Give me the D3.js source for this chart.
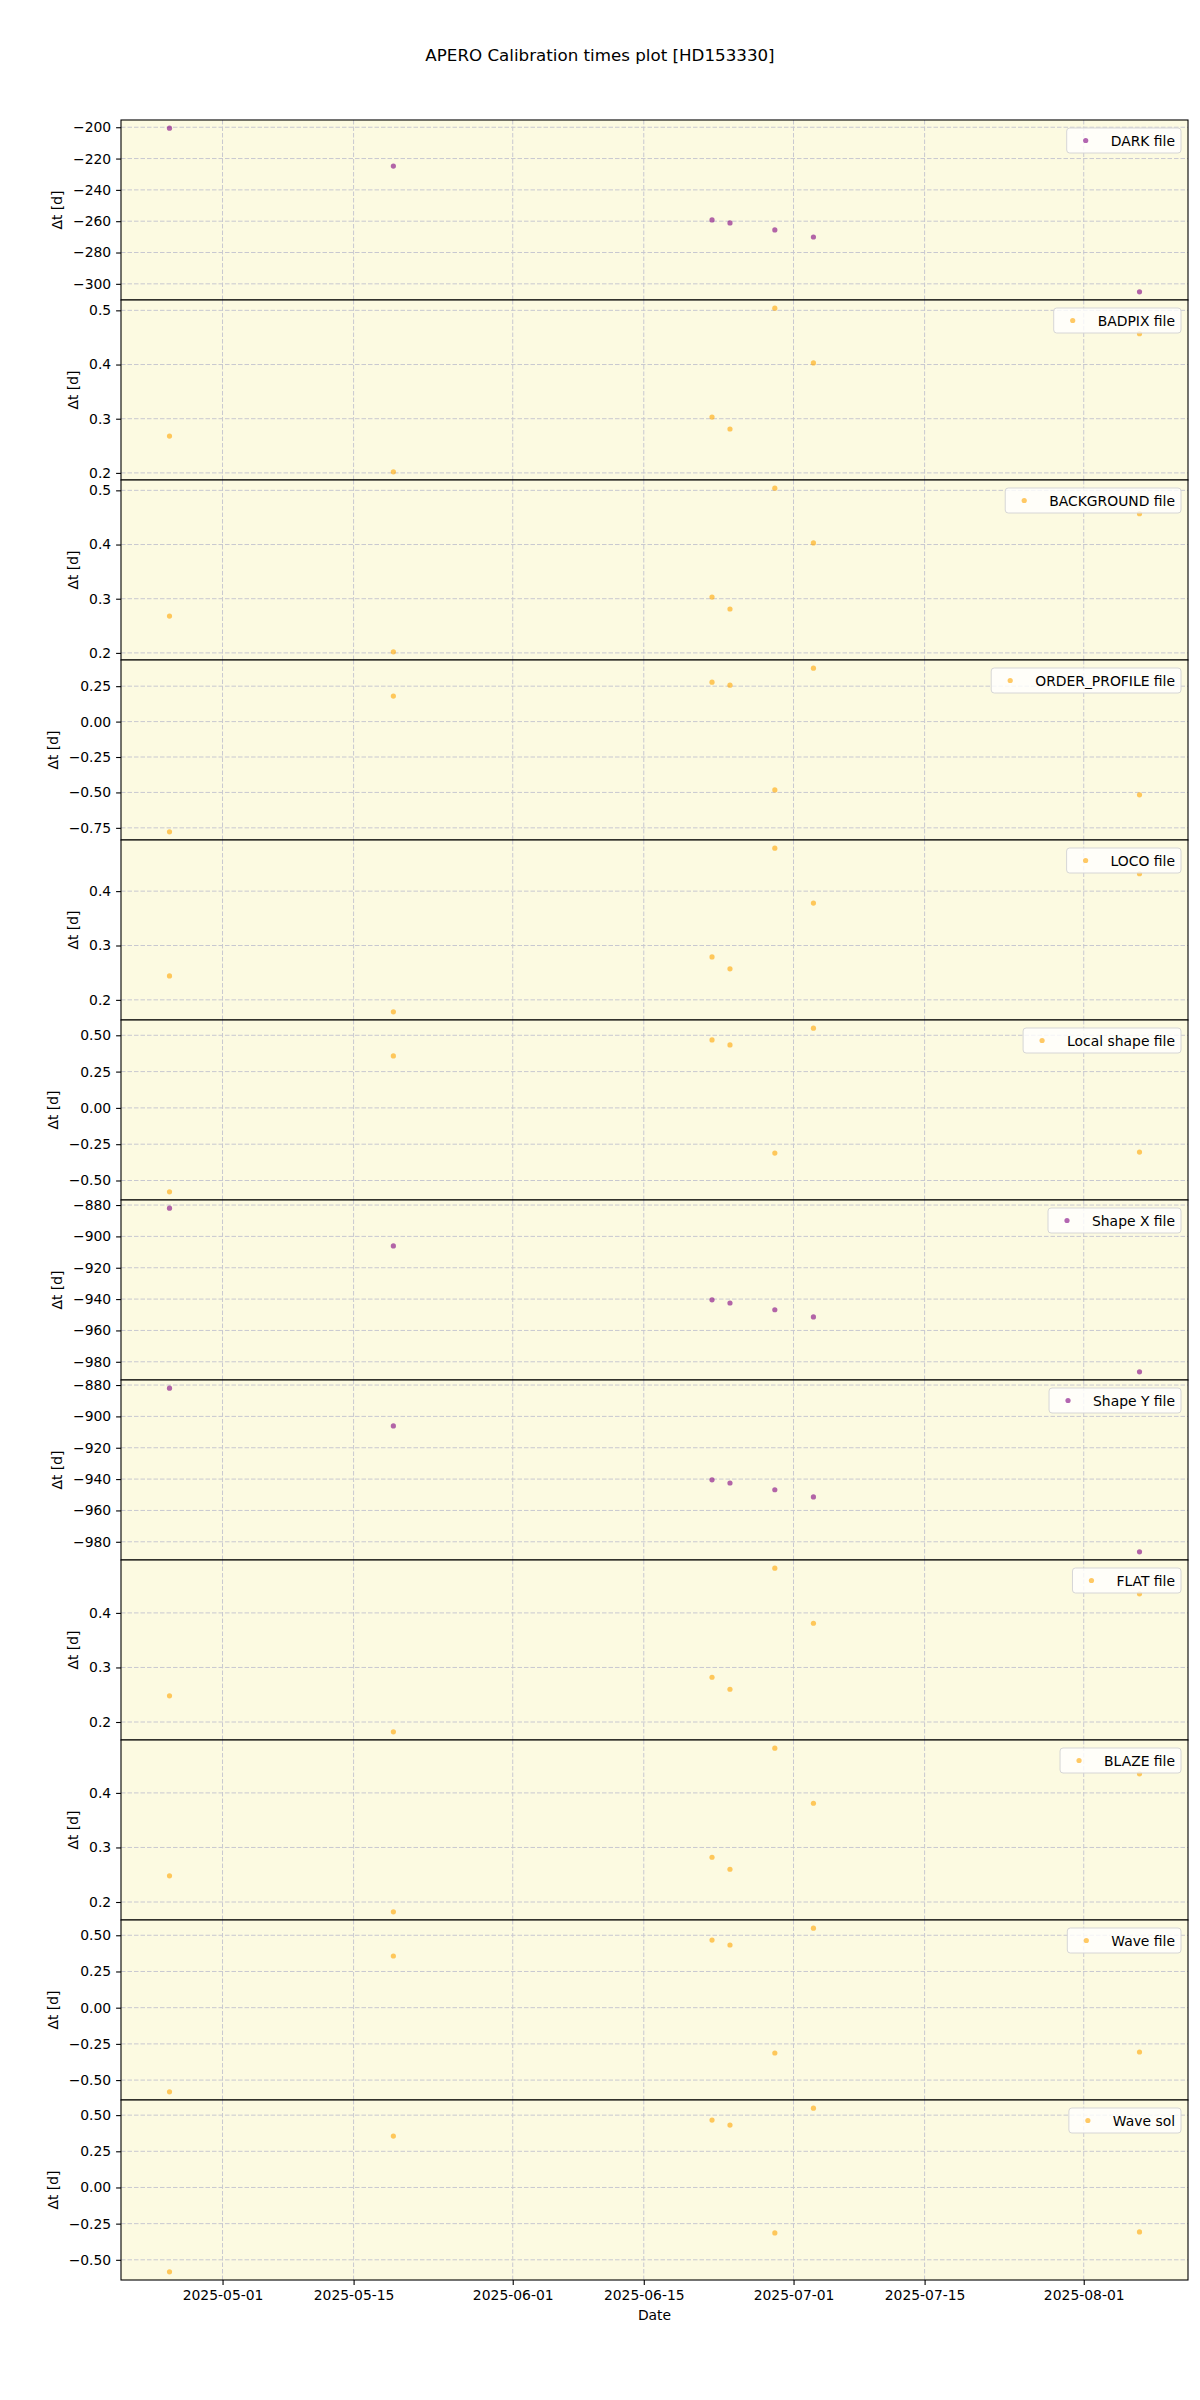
<!DOCTYPE html>
<html>
<head>
<meta charset="utf-8">
<script src="https://cdnjs.cloudflare.com/ajax/libs/d3/7.8.5/d3.min.js"></script>
<style>
  body { margin: 0; background: white; }
  svg { font-family: "DejaVu Sans", sans-serif; }
</style>
</head>
<body>
<div class="wrapper"></div>
<script>
const w = 1200
const h = 2400
const left = 121
const right = 1188
const top0 = 120
const panelH = 180
const fontSize = 13.9

// observation dates (shared by every panel)
const dates = ["2025-04-25T08:00", "2025-05-19T06:00", "2025-06-22T07:00", "2025-06-24T05:00",
  "2025-06-29T00:00", "2025-07-03T03:00", "2025-08-06T23:00"]

const darkDt = [-200.6, -224.8, -259.2, -261.1, -265.6, -270.1, -305.1]
const badpixDt = [0.268, 0.202, 0.303, 0.281, 0.504, 0.403, 0.457]
const backgroundDt = [0.268, 0.202, 0.303, 0.281, 0.504, 0.403, 0.457]
const orderProfileDt = [-0.778, 0.180, 0.278, 0.257, -0.482, 0.377, -0.517]
const locoDt = [0.244, 0.178, 0.279, 0.257, 0.479, 0.378, 0.432]
const localShapeDt = [-0.578, 0.358, 0.468, 0.434, -0.311, 0.549, -0.304]
const shapeXDt = [-882.0, -906.1, -940.5, -942.5, -946.8, -951.4, -986.4]
const shapeYDt = [-882.0, -906.1, -940.5, -942.5, -946.8, -951.4, -986.4]
const flatDt = [0.248, 0.182, 0.282, 0.260, 0.482, 0.381, 0.435]
const blazeDt = [0.248, 0.182, 0.282, 0.260, 0.482, 0.381, 0.435]
const waveFileDt = [-0.581, 0.357, 0.467, 0.433, -0.313, 0.549, -0.306]
const waveSolDt = [-0.583, 0.355, 0.466, 0.431, -0.314, 0.548, -0.307]

const labels = ["DARK file", "BADPIX file", "BACKGROUND file", "ORDER_PROFILE file", "LOCO file",
  "Local shape file", "Shape X file", "Shape Y file", "FLAT file", "BLAZE file", "Wave file", "Wave sol"]
const series = [darkDt, badpixDt, backgroundDt, orderProfileDt, locoDt, localShapeDt,
  shapeXDt, shapeYDt, flatDt, blazeDt, waveFileDt, waveSolDt]
const colors = ["purple", "orange", "orange", "orange", "orange", "orange",
  "purple", "purple", "orange", "orange", "orange", "orange"]

const darkTicks = [-300, -280, -260, -240, -220, -200]
const tenthTicks = [0.2, 0.3, 0.4, 0.5]
const quarterTicks = [-0.75, -0.5, -0.25, 0, 0.25, 0.5]
const shapeTicks = [-980, -960, -940, -920, -900, -880]
const yTicks = [darkTicks, tenthTicks, tenthTicks, quarterTicks, tenthTicks, quarterTicks,
  shapeTicks, shapeTicks, tenthTicks, tenthTicks, quarterTicks, quarterTicks]
const yDecimals = [0, 1, 1, 2, 1, 2, 0, 0, 1, 1, 2, 2]

const xTicks = ["2025-05-01", "2025-05-15", "2025-06-01", "2025-06-15", "2025-07-01", "2025-07-15", "2025-08-01"]

const parseT = (s) => new Date(s + (s.length > 10 ? ":00Z" : "T00:00:00Z"))
const times = dates.map(parseT)

const tExt = d3.extent(times)
const tPad = (tExt[1] - tExt[0]) * 0.05
const xScale = d3.scaleUtc()
  .domain([new Date(+tExt[0] - tPad), new Date(+tExt[1] + tPad)])
  .range([left, right])

const svg = d3.select(".wrapper")
  .append("svg")
  .attr("width", w)
  .attr("height", h)

svg.append("rect").attr("width", w).attr("height", h).attr("fill", "white")

svg.append("text")
  .attr("x", w / 2)
  .attr("y", 55)
  .attr("text-anchor", "middle")
  .attr("dominant-baseline", "central")
  .attr("font-size", 16.7)
  .text("APERO Calibration times plot [HD153330]")

series.forEach((vals, i) => {
  const y0 = top0 + i * panelH
  const ext = d3.extent(vals)
  const pad = (ext[1] - ext[0]) * 0.05
  const yScale = d3.scaleLinear()
    .domain([ext[0] - pad, ext[1] + pad])
    .range([y0 + panelH, y0])
  const ticks = yTicks[i].filter((t) => t >= yScale.domain()[0] && t <= yScale.domain()[1])
  const fmt = d3.format("." + yDecimals[i] + "f")

  const g = svg.append("g")

  g.append("rect")
    .attr("x", left).attr("y", y0)
    .attr("width", right - left).attr("height", panelH)
    .attr("fill", "#fcfae1")

  // grid
  g.selectAll(".gy")
    .data(ticks)
    .enter()
    .append("line")
    .attr("x1", left).attr("x2", right)
    .attr("y1", (d) => yScale(d)).attr("y2", (d) => yScale(d))
    .attr("stroke", "#c8c8d0").attr("stroke-width", 1)
    .attr("stroke-dasharray", "4.5,2")
  g.selectAll(".gx")
    .data(xTicks)
    .enter()
    .append("line")
    .attr("x1", (d) => xScale(parseT(d))).attr("x2", (d) => xScale(parseT(d)))
    .attr("y1", y0).attr("y2", y0 + panelH)
    .attr("stroke", "#c8c8d0").attr("stroke-width", 1)
    .attr("stroke-dasharray", "4.5,2")

  g.selectAll("circle")
    .data(vals)
    .enter()
    .append("circle")
    .attr("cx", (d, j) => xScale(times[j]))
    .attr("cy", (d) => yScale(d))
    .attr("r", 2.6)
    .attr("fill", colors[i])
    .attr("fill-opacity", 0.6)

  const yAxis = d3.axisLeft(yScale)
    .tickValues(ticks)
    .tickSize(4.9)
    .tickPadding(4.9)
    .tickFormat(fmt)
  const ay = g.append("g")
    .attr("transform", "translate(" + left + ", 0)")
    .call(yAxis)
  ay.select(".domain").remove()
  ay.selectAll("text").attr("font-size", fontSize).attr("font-family", "DejaVu Sans").attr("fill", "black")
  ay.selectAll("line").attr("stroke", "black").attr("stroke-width", 1.1)

  let maxW = 0
  ay.selectAll("text").each(function () { maxW = Math.max(maxW, this.getComputedTextLength()) })

  g.append("text")
    .attr("transform", "translate(" + (left - 9.8 - maxW - 16) + "," + (y0 + panelH / 2) + ") rotate(-90)")
    .attr("text-anchor", "middle")
    .attr("dominant-baseline", "central")
    .attr("font-size", fontSize)
    .text("Δt [d]")

  g.append("rect")
    .attr("x", left).attr("y", y0)
    .attr("width", right - left).attr("height", panelH)
    .attr("fill", "none")
    .attr("stroke", "black")
    .attr("stroke-width", 1.1)

  // legend
  const lg = g.append("g")
  const box = lg.append("rect")
  const lt = lg.append("text")
    .attr("x", right - 13)
    .attr("y", y0 + 20.5)
    .attr("text-anchor", "end")
    .attr("dominant-baseline", "central")
    .attr("font-size", fontSize)
    .text(labels[i])
  const tw = lt.node().getComputedTextLength()
  const markX = right - 13 - tw - 25
  lg.append("circle")
    .attr("cx", markX).attr("cy", y0 + 20.5)
    .attr("r", 2.6)
    .attr("fill", colors[i])
    .attr("fill-opacity", 0.6)
  box.attr("x", markX - 19)
    .attr("y", y0 + 8)
    .attr("width", right - 7 - (markX - 19))
    .attr("height", 25)
    .attr("rx", 3)
    .attr("fill", "white")
    .attr("fill-opacity", 0.8)
    .attr("stroke", "#d6d6d6")
    .attr("stroke-width", 1)

  if (i === series.length - 1) {
    const xAxis = d3.axisBottom(xScale)
      .tickValues(xTicks.map(parseT))
      .tickSize(4.9)
      .tickPadding(4.9)
      .tickFormat(d3.utcFormat("%Y-%m-%d"))
    const ax = svg.append("g")
      .attr("transform", "translate(0, " + (y0 + panelH) + ")")
      .call(xAxis)
    ax.select(".domain").remove()
    ax.selectAll("text").attr("font-size", fontSize).attr("font-family", "DejaVu Sans").attr("fill", "black")
    ax.selectAll("line").attr("stroke", "black").attr("stroke-width", 1.1)

    svg.append("text")
      .attr("x", (left + right) / 2)
      .attr("y", y0 + panelH + 35)
      .attr("text-anchor", "middle")
      .attr("dominant-baseline", "central")
      .attr("font-size", fontSize)
      .text("Date")
  }
})
</script>
</body>
</html>
